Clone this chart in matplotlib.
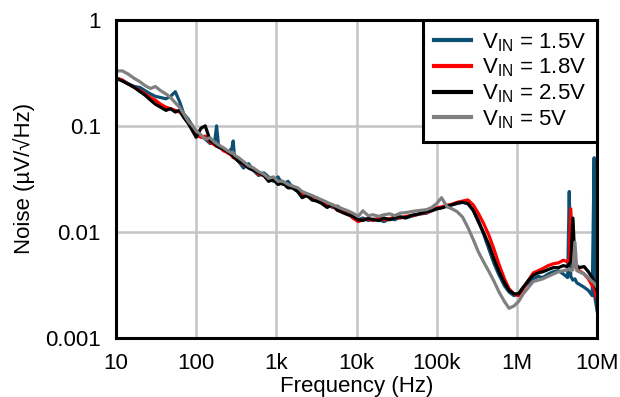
import matplotlib
matplotlib.use('Agg')
import matplotlib.pyplot as plt
from matplotlib.ticker import FixedLocator, FixedFormatter, NullLocator

plt.rcParams['font.family'] = ['Liberation Sans', 'DejaVu Sans']
plt.rcParams['mathtext.fontset'] = 'custom'
plt.rcParams['mathtext.rm'] = 'Liberation Sans'

# frequency points (Hz), shared by all curves
freq = [10, 12, 14, 17, 20, 23, 27, 31, 36, 42, 48, 55, 62, 70, 80, 90,
        100, 115, 130, 150, 170, 180, 190, 220, 250, 280, 290, 300, 340, 390,
        450, 520, 600, 700, 800, 920, 1050, 1200, 1400, 1600, 1850, 2100,
        2400, 2800, 3200, 3700, 4300, 5000, 5800, 6700, 7800, 9000, 10500,
        12000, 14000, 16000, 19000, 22000, 26000, 30000, 35000, 41000, 48000,
        56000, 65000, 75000, 87000, 100000, 115000, 135000, 155000, 180000,
        210000, 245000, 285000, 330000, 385000, 450000, 520000, 600000,
        700000, 800000, 920000, 1050000, 1200000, 1400000, 1600000, 1850000,
        2100000, 2450000, 2850000, 3300000, 3800000, 4300000, 4500000,
        4700000, 5000000, 5300000, 5600000, 6000000, 6900000, 7800000,
        8700000, 9200000, 9400000, 10000000]

# noise in uV/rtHz
vin_1p5 = [0.28, 0.27, 0.25, 0.235, 0.23, 0.215, 0.2, 0.19, 0.185, 0.18, 0.19, 0.21, 0.17, 0.13, 0.115, 0.1,
           0.085, 0.08, 0.075, 0.068, 0.07, 0.1, 0.066, 0.06, 0.055, 0.062, 0.072, 0.052, 0.046, 0.04,
           0.044, 0.038, 0.034, 0.036, 0.033, 0.03, 0.033, 0.028, 0.03, 0.026, 0.024, 0.022,
           0.023, 0.02, 0.021, 0.019, 0.0185, 0.017, 0.0175, 0.016, 0.015, 0.0145, 0.013,
           0.0135, 0.0128, 0.0132, 0.013, 0.0125, 0.0133, 0.013, 0.0138, 0.0135, 0.014,
           0.0145, 0.0148, 0.015, 0.016, 0.0165, 0.017, 0.0175, 0.018, 0.0185,
           0.019, 0.0185, 0.016, 0.013, 0.0095, 0.0068, 0.005, 0.0039,
           0.0031, 0.0027, 0.0025, 0.0026, 0.003, 0.0033, 0.0036, 0.0038,
           0.0037, 0.004, 0.0042, 0.0043, 0.004, 0.0037, 0.024,
           0.0038, 0.0035, 0.0036, 0.0033, 0.0032, 0.003, 0.0028,
           0.0025, 0.05, 0.0024, 0.0018]

vin_1p8 = [0.285, 0.27, 0.25, 0.23, 0.215, 0.2, 0.185, 0.175, 0.16, 0.15, 0.145, 0.14, 0.135, 0.125, 0.11, 0.095,
           0.082, 0.078, 0.08, 0.07, 0.066, 0.064, 0.065, 0.058, 0.056, 0.052, 0.05, 0.051, 0.047, 0.043,
           0.041, 0.039, 0.035, 0.034, 0.031, 0.032, 0.029, 0.03, 0.027, 0.027, 0.025, 0.023,
           0.022, 0.021, 0.02, 0.019, 0.018, 0.0175, 0.016, 0.0155, 0.015, 0.0135, 0.0125,
           0.013, 0.0132, 0.0128, 0.0135, 0.013, 0.0133, 0.0138, 0.0135, 0.014, 0.0142,
           0.0145, 0.015, 0.0152, 0.016, 0.0168, 0.0172, 0.0178, 0.0182, 0.019,
           0.0195, 0.02, 0.018, 0.015, 0.012, 0.0092, 0.0068, 0.0049,
           0.0036, 0.0029, 0.0026, 0.0025, 0.0029, 0.0035, 0.0041, 0.0043,
           0.0045, 0.0048, 0.005, 0.0051, 0.0054, 0.0052, 0.0055,
           0.0165, 0.0055, 0.0048, 0.0045, 0.0043, 0.004, 0.0036,
           0.0031, 0.003, 0.0028, 0.0023]

vin_2p5 = [0.28, 0.265, 0.25, 0.23, 0.21, 0.195, 0.175, 0.16, 0.15, 0.14, 0.145, 0.135, 0.14, 0.12, 0.105, 0.09,
           0.078, 0.095, 0.1, 0.072, 0.068, 0.065, 0.063, 0.06, 0.057, 0.053, 0.052, 0.05, 0.046, 0.044,
           0.04, 0.038, 0.036, 0.034, 0.03, 0.031, 0.028, 0.029, 0.026, 0.026, 0.024, 0.021,
           0.022, 0.02, 0.0195, 0.0185, 0.017, 0.018, 0.016, 0.0152, 0.0145, 0.014, 0.013,
           0.0128, 0.0134, 0.013, 0.0128, 0.0135, 0.013, 0.0136, 0.0138, 0.0136, 0.0143,
           0.0146, 0.015, 0.0155, 0.0158, 0.0165, 0.0168, 0.0175, 0.018, 0.0187,
           0.019, 0.0185, 0.016, 0.0125, 0.0098, 0.0075, 0.0055, 0.0042,
           0.0033, 0.0028, 0.0026, 0.0026, 0.003, 0.0035, 0.0039, 0.0041,
           0.0042, 0.0044, 0.0046, 0.0046, 0.0048, 0.0047, 0.005,
           0.0052, 0.0135, 0.0052, 0.0048, 0.0046, 0.0047, 0.0042,
           0.0037, 0.0034, 0.0032, 0.0028]

vin_5 = [0.33, 0.33, 0.31, 0.28, 0.26, 0.24, 0.225, 0.235, 0.215, 0.2, 0.185, 0.165, 0.15, 0.13, 0.11, 0.1,
         0.09, 0.082, 0.075, 0.077, 0.07, 0.068, 0.066, 0.062, 0.058, 0.055, 0.056, 0.053, 0.05, 0.046,
         0.042, 0.04, 0.037, 0.035, 0.032, 0.033, 0.03, 0.03, 0.028, 0.027, 0.026, 0.024,
         0.023, 0.022, 0.021, 0.02, 0.019, 0.018, 0.0172, 0.0165, 0.0158, 0.015, 0.014,
         0.0158, 0.0142, 0.0145, 0.014, 0.0145, 0.0148, 0.0142, 0.015, 0.0152, 0.0155,
         0.0158, 0.016, 0.0162, 0.017, 0.0185, 0.021, 0.0172, 0.0165, 0.0155,
         0.0138, 0.011, 0.0085, 0.0065, 0.0052, 0.0042, 0.0034, 0.0027,
         0.0022, 0.0019, 0.002, 0.0022, 0.0026, 0.003, 0.0034, 0.0035,
         0.0036, 0.0038, 0.004, 0.0042, 0.0043, 0.0044, 0.0045,
         0.0043, 0.0044, 0.008, 0.0043, 0.0042, 0.004, 0.0037,
         0.0034, 0.0033, 0.0032, 0.003]

series = [
    (vin_1p5, '#0d4f73', 'V$_{\\mathrm{IN}}$ = 1.5V'),
    (vin_1p8, '#ff0000', 'V$_{\\mathrm{IN}}$ = 1.8V'),
    (vin_2p5, '#000000', 'V$_{\\mathrm{IN}}$ = 2.5V'),
    (vin_5, '#808080', 'V$_{\\mathrm{IN}}$ = 5V'),
]

xticks = [10, 100, 1e3, 1e4, 1e5, 1e6, 1e7]
xtick_labels = ['10', '100', '1k', '10k', '100k', '1M', '10M']
yticks = [0.001, 0.01, 0.1, 1]
ytick_labels = ['0.001', '0.01', '0.1', '1']

fig = plt.figure(figsize=(6.2, 3.97), dpi=100)
ax = fig.add_axes([0.187, 0.149, 0.776, 0.801])

for vals, col, lab in series:
    ax.plot(freq, vals, color=col, lw=2.3, label=lab)

ax.set_xscale('log')
ax.set_yscale('log')
ax.set_xlim(10, 1e7)
ax.set_ylim(0.001, 1)

ax.xaxis.set_major_locator(FixedLocator(xticks))
ax.xaxis.set_major_formatter(FixedFormatter(xtick_labels))
ax.yaxis.set_major_locator(FixedLocator(yticks))
ax.yaxis.set_major_formatter(FixedFormatter(ytick_labels))
ax.xaxis.set_minor_locator(NullLocator())
ax.yaxis.set_minor_locator(NullLocator())
ax.tick_params(length=0, labelsize=16, pad=11)

ax.grid(True, color='#c4c4c4', lw=1.8)
ax.set_axisbelow(True)
for s in ax.spines.values():
    s.set_linewidth(2.2)
    s.set_color('black')

ax.set_xlabel('Frequency (Hz)', fontsize=16, labelpad=1)
ax.set_ylabel('Noise (\u00b5V/\u221aHz)', fontsize=16, labelpad=7)

leg = ax.legend(loc='upper right', fontsize=16, frameon=True, fancybox=False,
                borderaxespad=0, handlelength=1.65, labelspacing=0.14,
                handletextpad=0.5, borderpad=0.5)
leg.get_frame().set_edgecolor('black')
leg.get_frame().set_linewidth(2.2)
leg.get_frame().set_alpha(1)
for h in leg.get_lines():
    h.set_linewidth(3)

fig.savefig('out.png', dpi=100)
